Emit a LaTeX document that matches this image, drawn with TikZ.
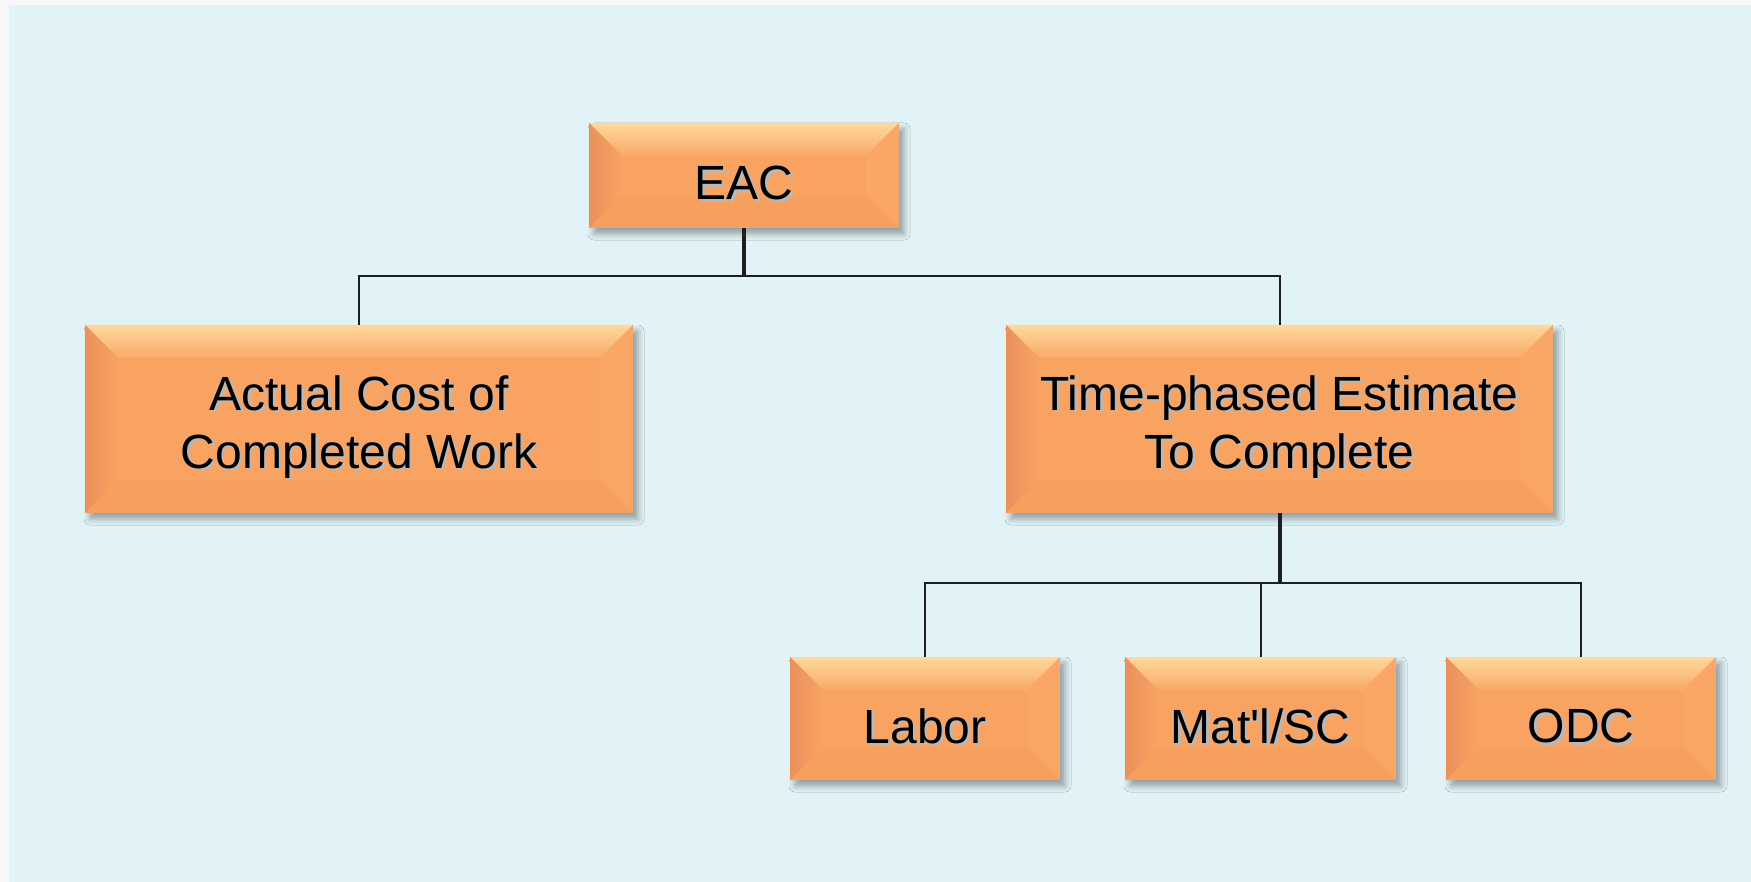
\documentclass[tikz,border=0pt]{standalone}
\usepackage{fontspec}
\setmainfont{Liberation Sans}
\usetikzlibrary{calc,shadows.blur}

\definecolor{pagewhite}{HTML}{F7F7F7}
\definecolor{bgcyan}{HTML}{E1F3F6}
\definecolor{face}{HTML}{F9A363}
\definecolor{bevtop}{HTML}{FDD99B}
\definecolor{bevtopin}{HTML}{F9A96A}
\definecolor{bevleft}{HTML}{E8915C}
\definecolor{bevright}{HTML}{FAA667}
\definecolor{bevbot}{HTML}{F79F5F}
\definecolor{linecol}{HTML}{1E1E1E}

% label text with a soft offset shadow, set a little below the box centre
\newcommand\shtxt[1]{\raisebox{-4.5pt}[\height][\depth]{{\setbox0\hbox{#1}\rlap{\kern1.3pt\raisebox{-1.3pt}{\textcolor{black!28}{#1}}}\box0}}}

\tikzset{
  bevelbox/.style={
    draw=none, fill=face, inner sep=0pt, align=center,
    font=\fontsize{24}{29}\selectfont,
    blur shadow={shadow xshift=2.5pt, shadow yshift=-3pt, shadow blur radius=3pt, shadow opacity=35},
    path picture={
      \coordinate (A) at (path picture bounding box.south west);
      \coordinate (B) at (path picture bounding box.north east);
      % top bevel
      \shade[top color=bevtop, bottom color=bevtopin]
        (A |- B) -- (B) -- ($(B)+(-16.5pt,-16.5pt)$) -- ($(A |- B)+(16.5pt,-16.5pt)$) -- cycle;
      % left bevel
      \shade[left color=bevleft, right color=face]
        (A) -- (A |- B) -- ($(A |- B)+(16.5pt,-16.5pt)$) -- ($(A)+(16.5pt,16.5pt)$) -- cycle;
      % right bevel
      \fill[bevright]
        (B) -- (B |- A) -- ($(B |- A)+(-16.5pt,16.5pt)$) -- ($(B)+(-16.5pt,-16.5pt)$) -- cycle;
      % bottom bevel
      \fill[bevbot]
        (A) -- (B |- A) -- ($(B |- A)+(-16.5pt,16.5pt)$) -- ($(A)+(16.5pt,16.5pt)$) -- cycle;
    }},
  conn/.style={draw=linecol, line width=1pt},
  stem/.style={draw=linecol, line width=1.6pt},
  thickstem/.style={draw=linecol, line width=2pt},
}

\begin{document}
\begin{tikzpicture}[x=0.5pt, y=-0.5pt]
  \useasboundingbox (0,0) rectangle (1751,882);
  \fill[pagewhite] (0,0) rectangle (1751,882);
  \fill[bgcyan] (9,5) rectangle (1751,882);

  % boxes
  \node[bevelbox, minimum width=155pt, minimum height=52.5pt] (eac) at (744,175.5) {\shtxt{EAC}};
  \node[bevelbox, minimum width=274pt, minimum height=94pt] (acw) at (359,419)
    {\shtxt{Actual Cost of}\\\shtxt{Completed Work}};
  \node[bevelbox, minimum width=273.5pt, minimum height=94pt] (tpe) at (1279.5,419)
    {\shtxt{Time-phased Estimate}\\\shtxt{To Complete}};
  \node[bevelbox, minimum width=135pt, minimum height=61.5pt] (lab) at (925,718.5) {\shtxt{Labor}};
  \node[bevelbox, minimum width=135.5pt, minimum height=61.5pt] (mat) at (1260.5,718.5) {\shtxt{Mat\textquotesingle l/SC}};
  \node[bevelbox, minimum width=135pt, minimum height=61.5pt] (odc) at (1581,718.5) {\shtxt{ODC}};

  % junctions of the tree
  \coordinate (j1) at (744,276);
  \coordinate (j2) at (1279.5,583);

  % connectors
  \draw[stem] (eac.south) -- (j1);
  \draw[conn] (acw.north) -- (acw.north |- j1) -- (tpe.north |- j1) -- (tpe.north);
  \draw[thickstem] (tpe.south) -- (j2);
  \draw[conn] (lab.north) -- (lab.north |- j2) -- (odc.north |- j2) -- (odc.north);
  \draw[conn] (mat.north) -- (mat.north |- j2);
\end{tikzpicture}
\end{document}
